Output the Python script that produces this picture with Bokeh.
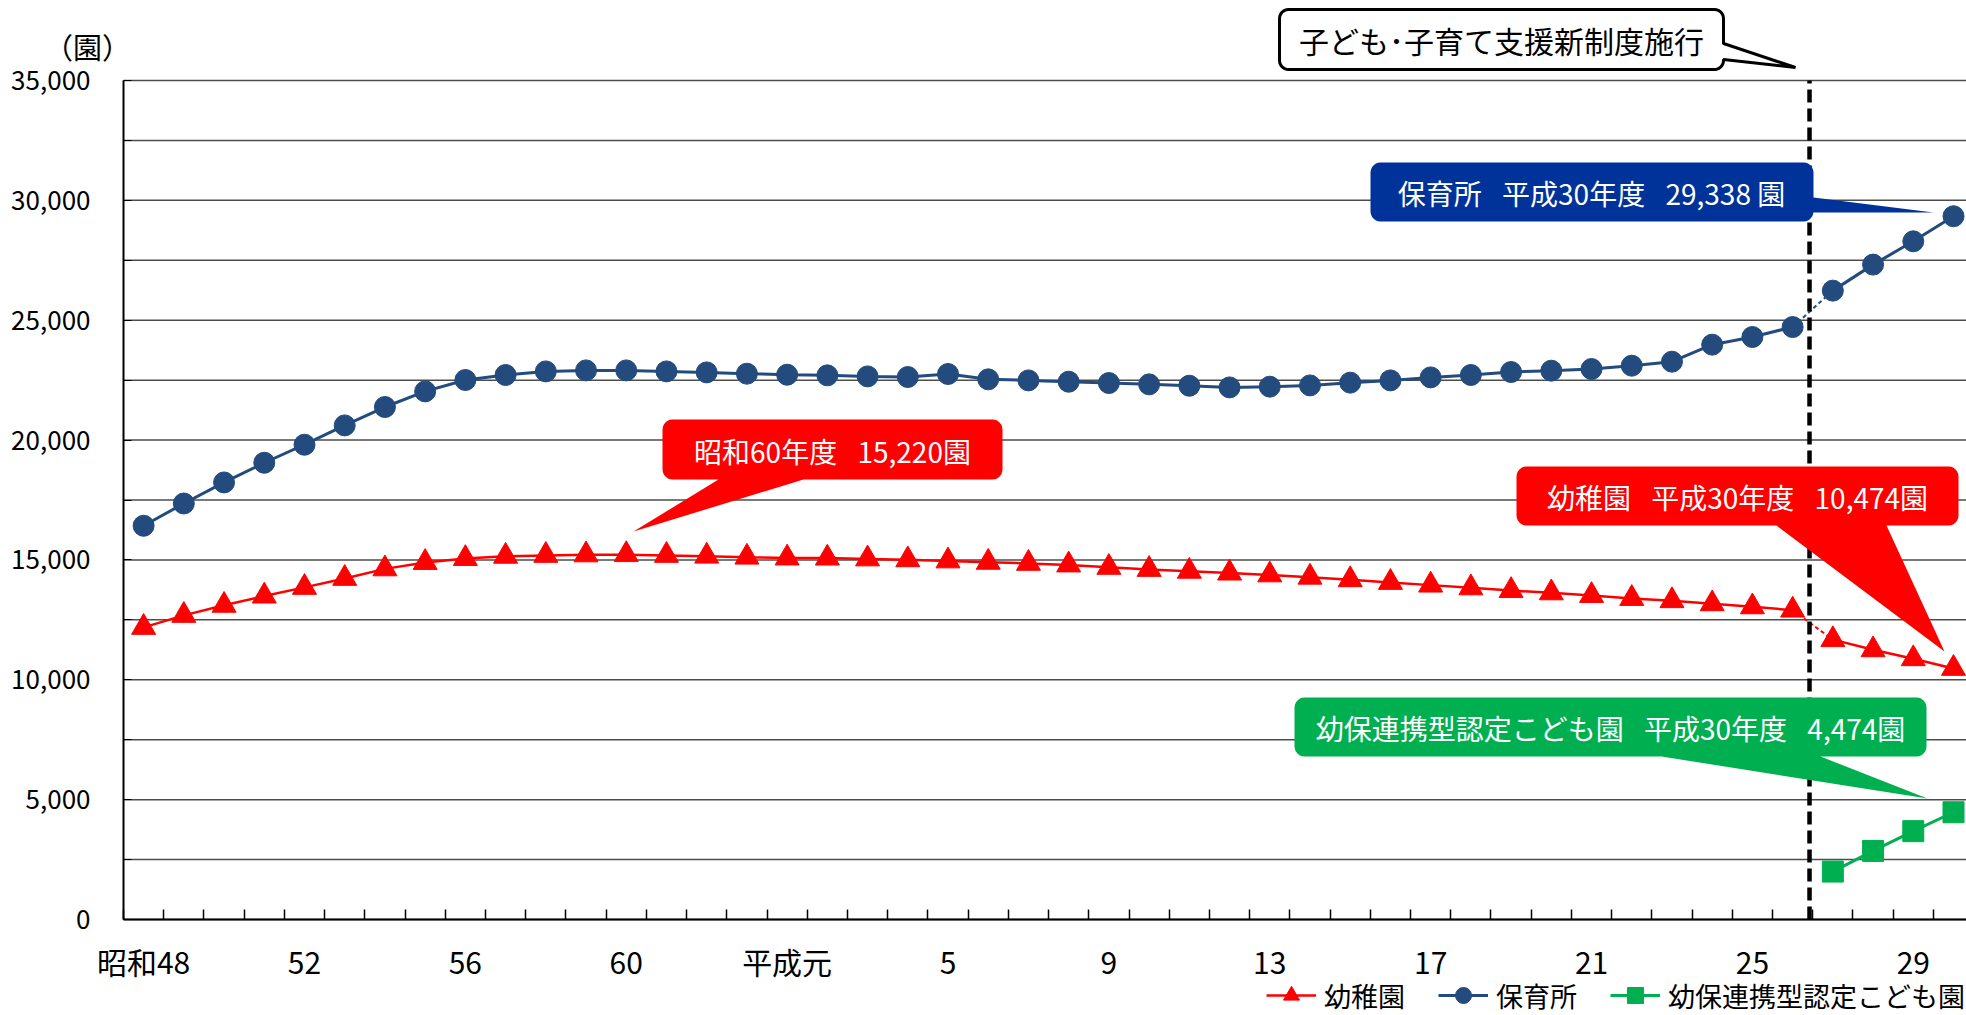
import math
from bokeh.plotting import figure
from bokeh.models import (Range1d, FixedTicker, NumeralTickFormatter, Label,
                          PolyAnnotation, Legend, LegendItem)
from bokeh.embed import file_html
from bokeh.resources import INLINE

# ---------------- data ----------------
fiscal_years = ["昭和48", "昭和49", "昭和50", "昭和51", "昭和52", "昭和53", "昭和54", "昭和55",
                "昭和56", "昭和57", "昭和58", "昭和59", "昭和60", "昭和61", "昭和62", "昭和63",
                "平成元", "平成2", "平成3", "平成4", "平成5", "平成6", "平成7", "平成8",
                "平成9", "平成10", "平成11", "平成12", "平成13", "平成14", "平成15", "平成16",
                "平成17", "平成18", "平成19", "平成20", "平成21", "平成22", "平成23", "平成24",
                "平成25", "平成26", "平成27", "平成28", "平成29", "平成30"]
tick_years = ["昭和48", "昭和52", "昭和56", "昭和60", "平成元", "平成5", "平成9", "平成13",
              "平成17", "平成21", "平成25", "平成29"]
tick_labels = ["昭和48", "52", "56", "60", "平成元", "5", "9", "13", "17", "21", "25", "29"]

kindergarten = [12185, 12686, 13106, 13492, 13854, 14229, 14627, 14893, 15059, 15152,
                15189, 15211, 15220, 15189, 15156, 15115, 15080, 15076, 15041, 15006,
                14958, 14901, 14856, 14790, 14690, 14603, 14527, 14451, 14375, 14279,
                14174, 14061, 13949, 13835, 13723, 13626, 13516, 13392, 13299, 13170,
                13043, 12905, 11674, 11252, 10878, 10474]
nursery = [16425, 17355, 18232, 19054, 19806, 20612, 21379, 22031, 22506, 22715,
           22865, 22907, 22907, 22865, 22824, 22769, 22727, 22700, 22657, 22631,
           22757, 22533, 22490, 22435, 22380, 22324, 22268, 22197, 22227, 22281,
           22394, 22490, 22615, 22715, 22840, 22894, 22965, 23103, 23270, 23980,
           24300, 24715, 26234, 27319, 28292, 29338]
kodomoen_years = ["平成27", "平成28", "平成29", "平成30"]
kodomoen = [2000, 2860, 3685, 4474]

y_ticks = [0, 5000, 10000, 15000, 20000, 25000, 30000, 35000]
y_minor_ticks = [2500, 7500, 12500, 17500, 22500, 27500, 32500]

series_names = ["幼稚園", "保育所", "幼保連携型認定こども園"]
new_system_year = "平成27"   # 子ども・子育て支援新制度施行

# ---------------- layout (canvas pixels) ----------------
FONT = "Noto Sans CJK JP"
RED = "#FF0000"
BLUE = "#234B7E"
GREEN = "#00B050"
NAVY = "#003399"
GRID = "#4d4d4d"

FIG_W, FIG_H = 1966, 1015
AX_L, AX_T, AX_B = 123, 80, 919      # y-axis x, 35,000 line y, x-axis y
PX_PER_CAT = 40.22
Y_MAX = 35000


def dx(px):
    return -0.5 + (px - AX_L) / PX_PER_CAT


def dy(py):
    return (AX_B - py) * Y_MAX / (AX_B - AX_T)


x_all = list(range(len(fiscal_years)))
split = fiscal_years.index(new_system_year)
x_kodo = [fiscal_years.index(y) for y in kodomoen_years]
tick_pos = [fiscal_years.index(y) for y in tick_years]
X_END = dx(FIG_W)

p = figure(width=FIG_W, height=FIG_H, title=None,
           x_range=Range1d(dx(0), X_END), y_range=Range1d(dy(FIG_H), dy(0)),
           output_backend="svg", toolbar_location=None,
           min_border=0, min_border_left=0, min_border_right=0,
           min_border_top=0, min_border_bottom=0)
p.outline_line_color = None
p.background_fill_color = "white"
p.border_fill_color = "white"
p.grid.visible = False

# axes (drawn at fixed data locations inside the full-canvas frame)
xticker = FixedTicker(ticks=tick_pos, minor_ticks=[i - 0.5 for i in range(len(fiscal_years) + 1)])
xa = p.xaxis[0]
xa.fixed_location = 0
xa.bounds = (-0.5, X_END)
xa.ticker = xticker
xa.major_label_overrides = {pos: lab for pos, lab in zip(tick_pos, tick_labels)}
xa.axis_line_color = "black"
xa.axis_line_width = 2
xa.major_tick_in = 0
xa.major_tick_out = 0
xa.minor_tick_in = 10
xa.minor_tick_out = 0
xa.minor_tick_line_color = "black"
xa.minor_tick_line_width = 1.5
xa.major_label_text_font = FONT
xa.major_label_text_font_size = "30px"
xa.major_label_text_color = "black"
xa.major_label_standoff = 19

yticker = FixedTicker(ticks=y_ticks, minor_ticks=y_minor_ticks)
ya = p.yaxis[0]
ya.fixed_location = -0.5
ya.bounds = (0, Y_MAX)
ya.ticker = yticker
ya.formatter = NumeralTickFormatter(format="0,0")
ya.axis_line_color = "black"
ya.axis_line_width = 2
ya.major_tick_in = 8
ya.major_tick_out = 0
ya.minor_tick_in = 8
ya.minor_tick_out = 0
ya.major_tick_line_color = "black"
ya.minor_tick_line_color = "black"
ya.major_label_text_font = FONT
ya.major_label_text_font_size = "26px"
ya.major_label_text_color = "black"
ya.major_label_standoff = 33

# horizontal grid lines at every tick
grid_vals = sorted(y_ticks + y_minor_ticks)
p.segment(x0=[-0.5] * len(grid_vals), y0=grid_vals, x1=[X_END] * len(grid_vals), y1=grid_vals,
          line_color=GRID, line_width=1.5)

# series
r_line = p.line(x_all[:split], kindergarten[:split], line_color=RED, line_width=2.5)
p.line(x_all[split - 1:split + 1], kindergarten[split - 1:split + 1], line_color=RED,
       line_width=2, line_dash="4 3")
p.line(x_all[split:], kindergarten[split:], line_color=RED, line_width=2.5)

b_line = p.line(x_all[:split], nursery[:split], line_color=BLUE, line_width=3)
p.line(x_all[split - 1:split + 1], nursery[split - 1:split + 1], line_color=BLUE,
       line_width=2, line_dash="4 3")
p.line(x_all[split:], nursery[split:], line_color=BLUE, line_width=3)

g_line = p.line(x_kodo, kodomoen, line_color=GREEN, line_width=3)

r_pts = p.scatter(x_all, kindergarten, marker="triangle", size=24, fill_color=RED, line_color=RED)
b_pts = p.scatter(x_all, nursery, marker="circle", size=21, fill_color=BLUE, line_color=BLUE)
g_pts = p.scatter(x_kodo, kodomoen, marker="square", size=21, fill_color=GREEN, line_color=GREEN)

# dashed line: start of the new system (between 平成26 and 平成27)
sys_x = split - 0.58
p.segment(x0=[sys_x], y0=[0], x1=[sys_x], y1=[Y_MAX], line_color="black",
          line_width=4.5, line_dash="13 6")


# callouts
def callout_path(l, t, r, b, rad, tail):
    pts = []

    def arc(cx, cy, a0, a1):
        for k in range(7):
            a = math.radians(a0 + (a1 - a0) * k / 6)
            pts.append((cx + rad * math.cos(a), cy + rad * math.sin(a)))

    arc(r - rad, t + rad, -90, 0)           # top-right
    if tail[0] == "right":
        _, y1, y2, tip = tail
        pts.extend([(r, y1), tip, (r, y2)])
    arc(r - rad, b - rad, 0, 90)            # bottom-right
    if tail[0] == "bottom":
        _, x1, x2, tip = tail
        pts.extend([(x2, b), tip, (x1, b)])
    arc(l + rad, b - rad, 90, 180)          # bottom-left
    arc(l + rad, t + rad, 180, 270)         # top-left
    return [dx(px) for px, _ in pts], [dy(py) for _, py in pts]


callouts = [
    dict(box=(1279, 9, 1723, 69), rad=9, tail=("right", 43, 59, (1795, 67)),
         fill="white", line="black", lw=3,
         text="子ども･子育て支援新制度施行", tx=1501, ty=39, color="black", size="30px"),
    dict(box=(1370, 162, 1813, 221), rad=10, tail=("right", 197, 212, (1933, 212)),
         fill=NAVY, line=None, lw=0,
         text="保育所\u2002 平成30年度\u2002 29,338 園", tx=1591, ty=192, color="white", size="28px"),
    dict(box=(662, 419, 1002, 479), rad=10, tail=("bottom", 718, 803, (633, 531)),
         fill=RED, line=None, lw=0,
         text="昭和60年度\u2002 15,220園", tx=832, ty=450, color="white", size="28px"),
    dict(box=(1516, 466, 1958, 525), rad=10, tail=("bottom", 1776, 1886, (1944, 651)),
         fill=RED, line=None, lw=0,
         text="幼稚園\u2002 平成30年度\u2002 10,474園", tx=1737, ty=496, color="white", size="28px"),
    dict(box=(1294, 697, 1926, 756), rad=10, tail=("bottom", 1661, 1820, (1927, 798)),
         fill=GREEN, line=None, lw=0,
         text="幼保連携型認定こども園\u2002 平成30年度\u2002 4,474園", tx=1610, ty=727,
         color="white", size="28px"),
]

for c in callouts:
    xs, ys = callout_path(*c["box"], c["rad"], c["tail"])
    poly = PolyAnnotation(xs=xs, ys=ys, fill_color=c["fill"], fill_alpha=1.0,
                          line_color=c["line"], line_width=c["lw"] if c["lw"] else 1,
                          line_alpha=1.0 if c["line"] else 0.0)
    p.add_layout(poly)
    p.add_layout(Label(x=dx(c["tx"]), y=dy(c["ty"]), text=c["text"], text_align="center",
                       text_baseline="middle", text_color=c["color"], text_font=FONT,
                       text_font_size=c["size"]))

# unit label
p.add_layout(Label(x=dx(87), y=dy(45), text="（園）", text_align="center",
                   text_baseline="middle", text_color="black", text_font=FONT,
                   text_font_size="29px"))

# legend (bottom right, below the tick labels)
legend = Legend(items=[LegendItem(label=series_names[0], renderers=[r_line, r_pts]),
                       LegendItem(label=series_names[1], renderers=[b_line, b_pts]),
                       LegendItem(label=series_names[2], renderers=[g_line, g_pts])],
                orientation="horizontal", location=(1266, 0),
                glyph_width=50, glyph_height=40, label_height=40, label_standoff=8,
                spacing=33, padding=0, margin=0, border_line_color=None,
                background_fill_alpha=0, label_text_font=FONT,
                label_text_font_size="27px", label_text_color="black")
p.add_layout(legend)

open("out.html", "w").write(file_html(p, INLINE))
